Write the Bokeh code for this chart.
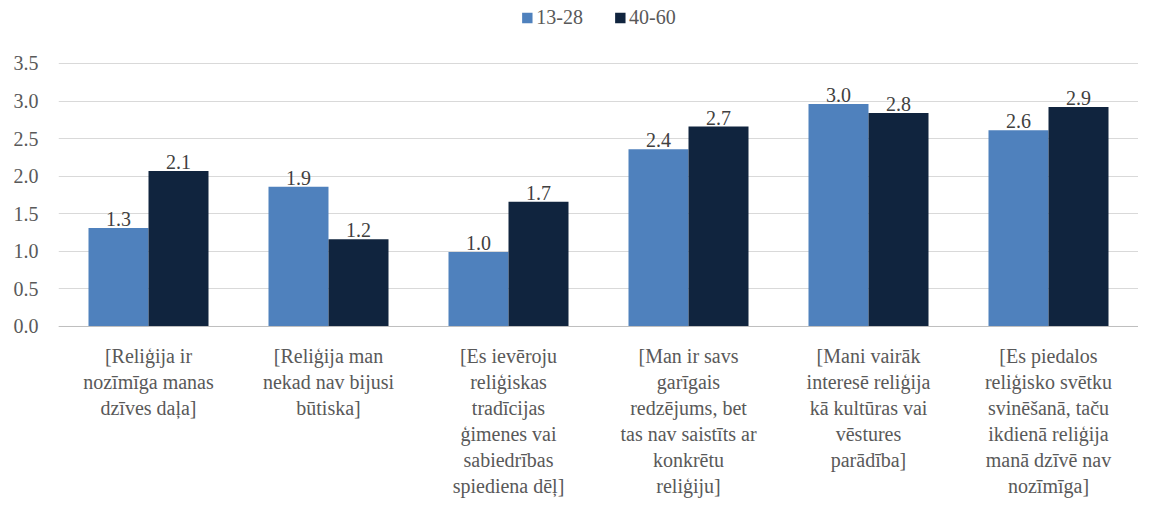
from bokeh.plotting import figure
from bokeh.models import ColumnDataSource, Range1d, FactorRange, Legend, LegendItem, LabelSet, FixedTicker, Span, NumeralTickFormatter
from bokeh.transform import dodge
from bokeh.embed import file_html
from bokeh.resources import INLINE

categories = [
    "[Reliģija ir\nnozīmīga manas\ndzīves daļa]",
    "[Reliģija man\nnekad nav bijusi\nbūtiska]",
    "[Es ievēroju\nreliģiskas\ntradīcijas\nģimenes vai\nsabiedrības\nspiediena dēļ]",
    "[Man ir savs\ngarīgais\nredzējums, bet\ntas nav saistīts ar\nkonkrētu\nreliģiju]",
    "[Mani vairāk\ninteresē reliģija\nkā kultūras vai\nvēstures\nparādība]",
    "[Es piedalos\nreliģisko svētku\nsvinēšanā, taču\nikdienā reliģija\nmanā dzīvē nav\nnozīmīga]",
]
series_names = ["13-28", "40-60"]
young = [1.31, 1.86, 0.99, 2.36, 2.96, 2.61]
older = [2.07, 1.16, 1.66, 2.66, 2.84, 2.92]
y_ticks = [0, 0.5, 1, 1.5, 2, 2.5, 3, 3.5]

colors = ["#4f81bd", "#10243e"]
FONT = "Liberation Serif"
FS = "20px"
TXT = "#595959"
LINE_STEP = 26

src = ColumnDataSource(dict(
    cat=categories,
    young=young,
    older=older,
    young_lbl=[f"{v:.1f}" for v in young],
    older_lbl=[f"{v:.1f}" for v in older],
))

# one row per line of each category label, so every line is centred
line_cat, line_txt, line_off = [], [], []
for c in categories:
    for i, t in enumerate(c.split("\n")):
        line_cat.append(c)
        line_txt.append(t)
        line_off.append(-(19 + i * LINE_STEP))
lines_src = ColumnDataSource(dict(cat=line_cat, t=line_txt, off=line_off, y=[0] * len(line_cat)))

p = figure(
    x_range=FactorRange(*categories, range_padding=0),
    y_range=Range1d(-2.382, 4.338),
    width=1138, height=505,
    output_backend="svg", toolbar_location=None,
    min_border_left=58, min_border_right=0, min_border_top=0, min_border_bottom=0,
)

r1 = p.vbar(x=dodge("cat", -0.1667, range=p.x_range), top="young", width=0.3333,
            source=src, fill_color=colors[0], line_color=None)
r2 = p.vbar(x=dodge("cat", 0.1667, range=p.x_range), top="older", width=0.3333,
            source=src, fill_color=colors[1], line_color=None)

p.add_layout(Span(location=0, dimension="width", line_color="#bfbfbf", line_width=1))

for col, lbl, off in [("young", "young_lbl", -0.1667), ("older", "older_lbl", 0.1667)]:
    p.add_layout(LabelSet(x=dodge("cat", off, range=p.x_range), y=col, text=lbl, source=src,
                          text_align="center", text_baseline="bottom", y_offset=2,
                          text_font=FONT, text_font_size=FS, text_color="#404040"))

p.add_layout(LabelSet(x="cat", y="y", text="t", source=lines_src, y_offset="off",
                      text_align="center", text_baseline="top",
                      text_font=FONT, text_font_size=FS, text_color=TXT))

legend = Legend(items=[LegendItem(label=series_names[0], renderers=[r1]),
                       LegendItem(label=series_names[1], renderers=[r2])],
                orientation="horizontal", location="top_center",
                label_text_font=FONT, label_text_font_size=FS, label_text_color=TXT,
                glyph_width=13, glyph_height=13, spacing=30, padding=2, margin=6,
                border_line_color=None, background_fill_alpha=0, label_standoff=3)
p.add_layout(legend)

p.outline_line_color = None
p.xgrid.grid_line_color = None
p.ygrid.grid_line_color = "#d9d9d9"
p.ygrid.ticker = FixedTicker(ticks=y_ticks)
p.yaxis.ticker = FixedTicker(ticks=y_ticks)
p.yaxis.formatter = NumeralTickFormatter(format="0.0")
p.yaxis.axis_line_color = None
p.yaxis.major_tick_line_color = None
p.yaxis.minor_tick_line_color = None
p.yaxis.major_label_text_font = FONT
p.yaxis.major_label_text_font_size = FS
p.yaxis.major_label_text_color = TXT
p.yaxis.major_label_standoff = 14
p.xaxis.visible = False

open("out.html", "w").write(file_html(p, INLINE))
